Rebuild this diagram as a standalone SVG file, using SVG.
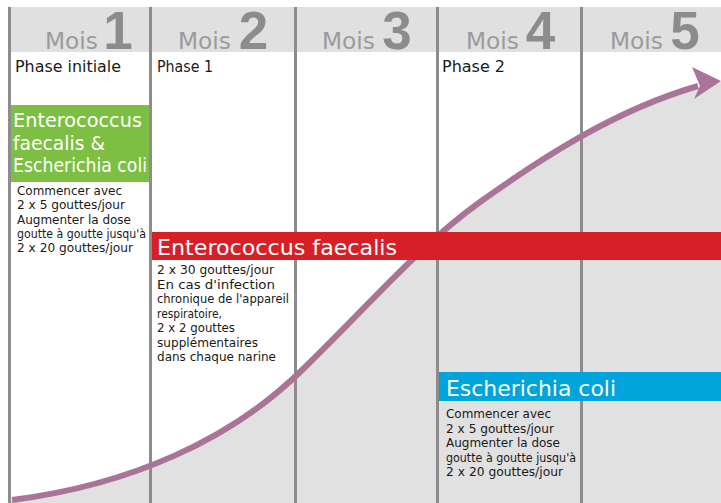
<svg xmlns="http://www.w3.org/2000/svg" width="721" height="503" viewBox="0 0 721 503">
<defs>
<style>
.vline{stroke:#8c8c8c;stroke-width:3;fill:none}
.mois{font-family:"DejaVu Sans",sans-serif;font-size:23px;fill:#9b9b9b}
.num{font-family:"Liberation Sans",Arial,sans-serif;font-size:53px;font-weight:bold;fill:#8c8c8c;text-anchor:middle}
.phase{font-family:"DejaVu Sans",sans-serif;font-size:16px;fill:#1a1a1a}
.body{font-family:"DejaVu Sans",sans-serif;font-size:12px;fill:#1a1a1a}
.big{font-family:"DejaVu Sans",sans-serif;fill:#ffffff}
</style>
</defs>
<rect x="0" y="0" width="721" height="503" fill="#ffffff"/>
<rect x="11" y="7" width="710" height="45" fill="#dfe0df"/>
<g id="area">
<path d="M11,503 L11,500 L12,500 C130,485 230,440 300,372 C370,304 420,245 480,202 C540,159 615,110 695,88 L721,82 L721,503 Z" fill="#e0e1e0"/>
</g>
<g id="columns">
<line class="vline" x1="9.5" y1="7" x2="9.5" y2="503"/>
<line class="vline" x1="150.5" y1="7" x2="150.5" y2="503"/>
<line class="vline" x1="295.5" y1="7" x2="295.5" y2="503"/>
<line class="vline" x1="437.5" y1="7" x2="437.5" y2="503"/>
<line class="vline" x1="581.5" y1="7" x2="581.5" y2="503"/>
</g>
<g id="header">
<text class="mois" x="45" y="49" textLength="53" lengthAdjust="spacingAndGlyphs">Mois</text>
<text class="num" x="118" y="49">1</text>
<text class="mois" x="178" y="49" textLength="53" lengthAdjust="spacingAndGlyphs">Mois</text>
<text class="num" x="253.5" y="49">2</text>
<text class="mois" x="322" y="49" textLength="53" lengthAdjust="spacingAndGlyphs">Mois</text>
<text class="num" x="397" y="49">3</text>
<text class="mois" x="466" y="49" textLength="53" lengthAdjust="spacingAndGlyphs">Mois</text>
<text class="num" x="540.5" y="49">4</text>
<text class="mois" x="610" y="49" textLength="53" lengthAdjust="spacingAndGlyphs">Mois</text>
<text class="num" x="685" y="49">5</text>
<text class="phase" x="15" y="72" textLength="106" lengthAdjust="spacingAndGlyphs">Phase initiale</text>
<text class="phase" x="157" y="72" textLength="56" lengthAdjust="spacingAndGlyphs">Phase 1</text>
<text class="phase" x="442" y="72" textLength="63" lengthAdjust="spacingAndGlyphs">Phase 2</text>
</g>
<g id="connectors">
<path d="M12,500 C130,485 230,440 300,372 C370,304 420,245 480,202 C540,159 615,110 698,86" fill="none" stroke="#a97497" stroke-width="6"/>
<polygon points="721,81 692,67 700,86 694,99" fill="#a97497"/>
</g>
<g id="node-initial">
<rect x="11" y="105" width="138" height="77" fill="#7cbf42"/>
<text class="big" font-size="19.2" x="13" y="127" textLength="129" lengthAdjust="spacingAndGlyphs">Enterococcus</text>
<text class="big" font-size="19.2" x="13" y="150" textLength="92" lengthAdjust="spacingAndGlyphs">faecalis &amp;</text>
<text class="big" font-size="19.2" x="13" y="172" textLength="134" lengthAdjust="spacingAndGlyphs">Escherichia coli</text>
<text class="body" x="17" y="195" textLength="105" lengthAdjust="spacingAndGlyphs">Commencer avec</text>
<text class="body" x="17" y="209.3" textLength="108" lengthAdjust="spacingAndGlyphs">2 x 5 gouttes/jour</text>
<text class="body" x="17" y="223.6" textLength="114" lengthAdjust="spacingAndGlyphs">Augmenter la dose</text>
<text class="body" x="17" y="238" textLength="129" lengthAdjust="spacingAndGlyphs">goutte à goutte jusqu'à</text>
<text class="body" x="17" y="252.3" textLength="116" lengthAdjust="spacingAndGlyphs">2 x 20 gouttes/jour</text>
</g>
<g id="node-phase1">
<rect x="152" y="232" width="569" height="28" fill="#d71f27"/>
<text class="big" font-size="22" x="157" y="255" textLength="240" lengthAdjust="spacingAndGlyphs">Enterococcus faecalis</text>
<text class="body" x="157" y="274" textLength="117" lengthAdjust="spacingAndGlyphs">2 x 30 gouttes/jour</text>
<text class="body" x="157" y="288.5" textLength="118" lengthAdjust="spacingAndGlyphs">En cas d'infection</text>
<text class="body" x="157" y="303" textLength="132" lengthAdjust="spacingAndGlyphs">chronique de l'appareil</text>
<text class="body" x="157" y="317.5" textLength="65" lengthAdjust="spacingAndGlyphs">respiratoire,</text>
<text class="body" x="157" y="332" textLength="78" lengthAdjust="spacingAndGlyphs">2 x 2 gouttes</text>
<text class="body" x="157" y="346.5" textLength="101" lengthAdjust="spacingAndGlyphs">supplémentaires</text>
<text class="body" x="157" y="361" textLength="119" lengthAdjust="spacingAndGlyphs">dans chaque narine</text>
</g>
<g id="node-phase2">
<rect x="439" y="372" width="282" height="29" fill="#00a3da"/>
<text class="big" font-size="22" x="446" y="396" textLength="170" lengthAdjust="spacingAndGlyphs">Escherichia coli</text>
<text class="body" x="446" y="418" textLength="105" lengthAdjust="spacingAndGlyphs">Commencer avec</text>
<text class="body" x="446" y="432.5" textLength="108" lengthAdjust="spacingAndGlyphs">2 x 5 gouttes/jour</text>
<text class="body" x="446" y="447" textLength="114" lengthAdjust="spacingAndGlyphs">Augmenter la dose</text>
<text class="body" x="446" y="461.5" textLength="130" lengthAdjust="spacingAndGlyphs">goutte à goutte jusqu'à</text>
<text class="body" x="446" y="476" textLength="117" lengthAdjust="spacingAndGlyphs">2 x 20 gouttes/jour</text>
</g>
</svg>
